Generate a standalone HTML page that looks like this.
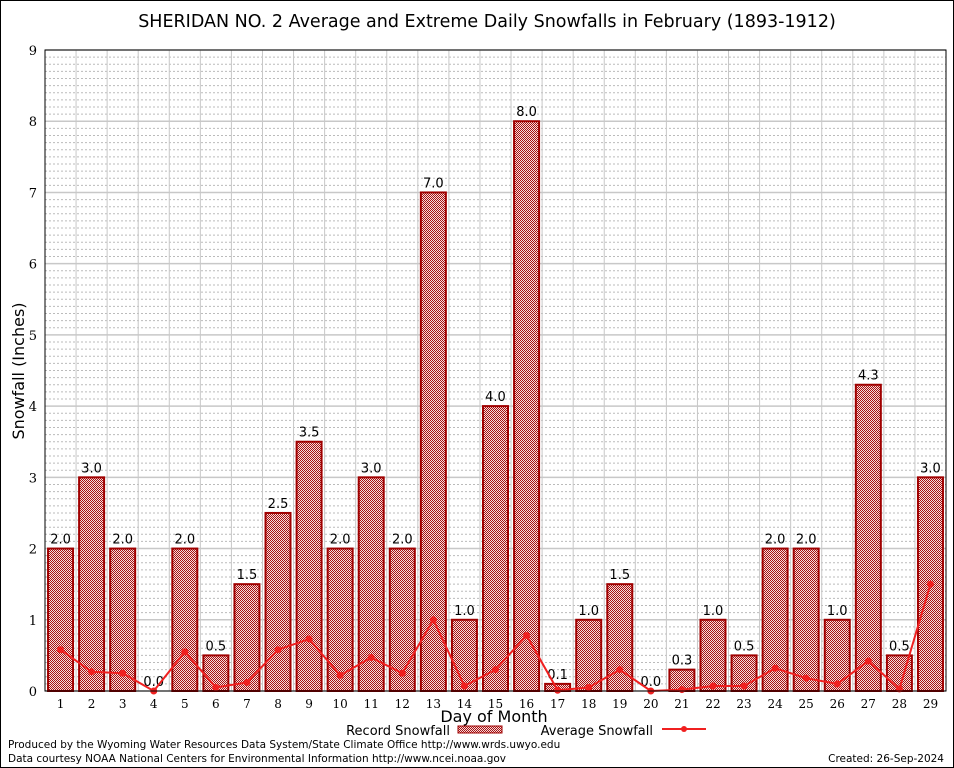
<!DOCTYPE html>
<html><head><meta charset="utf-8"><style>
body{margin:0;background:#fff}
svg{display:block;font-family:"DejaVu Sans","Liberation Sans",sans-serif}
</style></head><body>
<svg id="c" width="954" height="768">
<defs>
<pattern id="chk" width="2" height="2" patternUnits="userSpaceOnUse">
<rect width="2" height="2" fill="#f4dede"/>
<rect width="1" height="1" fill="#a81010"/>
<rect x="1" y="1" width="1" height="1" fill="#a81010"/>
</pattern>
</defs>
<rect x="0.5" y="0.5" width="953" height="767" fill="#fff" stroke="#000"/>
<text x="487" y="27" font-size="17.5" text-anchor="middle">SHERIDAN NO. 2 Average and Extreme Daily Snowfalls in February (1893-1912)</text>
<g id="grid"></g>
<g id="bars"></g>
<g id="line"></g>
<g id="axes"></g>
<text transform="translate(24,371) rotate(-90)" font-size="16" text-anchor="middle">Snowfall (Inches)</text>
<text x="494" y="722" font-size="16" text-anchor="middle">Day of Month</text>
<g>
<text x="450" y="735" font-size="13" text-anchor="end">Record Snowfall</text>
<rect x="458" y="726" width="44" height="7" fill="url(#chk)" stroke="#a00000"/>
<text x="653" y="735" font-size="13" text-anchor="end">Average Snowfall</text>
<line x1="662" y1="729" x2="706" y2="729" stroke="#f02020" stroke-width="2"/>
<circle cx="684" cy="729" r="3" fill="#f02020"/>
</g>
<text x="8" y="748" font-size="10.5">Produced by the Wyoming Water Resources Data System/State Climate Office http://www.wrds.uwyo.edu</text>
<text x="8" y="762" font-size="10.5">Data courtesy NOAA National Centers for Environmental Information http://www.ncei.noaa.gov</text>
<text x="944" y="762" font-size="10.5" text-anchor="end">Created:  26-Sep-2024</text>
</svg>
<script>
const days=[1,2,3,4,5,6,7,8,9,10,11,12,13,14,15,16,17,18,19,20,21,22,23,24,25,26,27,28,29];
const records=[2.0,3.0,2.0,0.0,2.0,0.5,1.5,2.5,3.5,2.0,3.0,2.0,7.0,1.0,4.0,8.0,0.1,1.0,1.5,0.0,0.3,1.0,0.5,2.0,2.0,1.0,4.3,0.5,3.0];
const averages=[0.58,0.27,0.25,0.0,0.55,0.05,0.12,0.58,0.73,0.22,0.47,0.25,1.0,0.07,0.3,0.78,0.01,0.05,0.3,0.0,0.02,0.07,0.07,0.32,0.18,0.1,0.42,0.03,1.5];
const yTicks=[0,1,2,3,4,5,6,7,8,9];
const L=45,R=946,T=50,B=691,ymax=9;
const bw=(R-L)/days.length;
const X=i=>L+bw*(i+0.5);
const Y=v=>B-(B-T)*v/ymax;
const NS="http://www.w3.org/2000/svg";
function mk(p,t,a){const e=document.createElementNS(NS,t);for(const k in a)e.setAttribute(k,a[k]);document.getElementById(p).appendChild(e);return e;}
for(let v=0.1;v<ymax;v+=0.1){if(Math.abs(v-Math.round(v))<0.01)continue;
const g=mk('grid','line',{x1:L,x2:R,y1:Y(v),y2:Y(v),stroke:'#bbb','stroke-dasharray':'2,2','stroke-width':1});

}
for(let i=0;i<=days.length;i++){const g=mk('grid','line',{x1:L+bw*i,x2:L+bw*i,y1:T,y2:B,stroke:'#c8c8c8','stroke-width':1});

}
yTicks.forEach(v=>{const g=mk('grid','line',{x1:L,x2:R,y1:Y(v),y2:Y(v),stroke:'#c8c8c8','stroke-width':1.5});


const t=mk('axes','text',{x:L-8,y:Y(v)+5,'font-size':13,'text-anchor':'end','font-family':'DejaVu Serif,serif'});t.textContent=v;

});
days.forEach((d,i)=>{
const v=records[i];const h=B-Y(v);
if(v>0){const r=mk('bars','rect',{x:X(i)-12.5,y:Y(v),width:25,height:h,fill:'url(#chk)',stroke:'#a00000','stroke-width':2});

}
const lab=mk('bars','text',{x:X(i),y:Y(v)-5,'font-size':13,'text-anchor':'middle'});lab.textContent=v.toFixed(1);


const t=mk('axes','text',{x:X(i),y:B+17,'font-size':12,'text-anchor':'middle','font-family':'DejaVu Serif,serif'});t.textContent=d;


});
const pl=mk('line','polyline',{points:averages.map((v,i)=>X(i)+','+Y(v)).join(' '),fill:'none',stroke:'#f02020','stroke-width':2});


averages.forEach((v,i)=>{const c=mk('line','circle',{cx:X(i),cy:Y(v),r:3.5,fill:'#f02020'});

});
const ax=mk('axes','rect',{x:L,y:T,width:R-L,height:B-T,fill:'none',stroke:'#000','stroke-width':1});


</script>
</body></html>
